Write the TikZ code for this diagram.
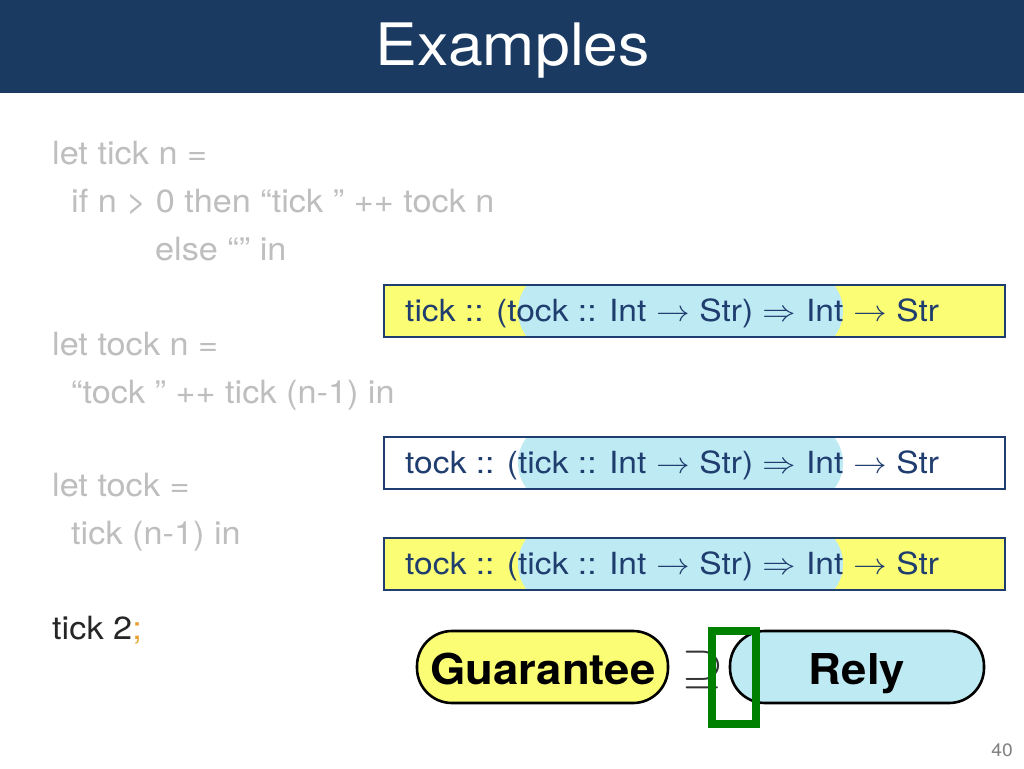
\documentclass[tikz,border=0pt]{standalone}
\usepackage{fontspec}
\setmainfont[FakeStretch=1.07]{TeX Gyre Heros}
\newfontfamily\typefont[FakeStretch=1.1]{TeX Gyre Heros}
\newfontfamily\lmm[FakeStretch=1.1]{Latin Modern Math}
\begin{document}
\begin{tikzpicture}[x=1pt,y=-1pt,
  codetext/.style={anchor=base west,inner sep=0pt,text=codegray,font=\fontsize{32}{36}\selectfont},
  typetext/.style={anchor=base west,inner sep=0pt,text=navy,font=\typefont\fontsize{30.5}{34}\selectfont},
  typesym/.style={anchor=base west,inner sep=0pt,text=navy,font=\lmm\fontsize{30.5}{34}\selectfont},
  typebox/.style={draw=navy,line width=1.3pt},
  capsule/.style={draw=black,line width=2.6pt,rounded corners=35pt},
  captext/.style={anchor=base,inner sep=0pt,font=\fontsize{42.5}{50}\selectfont\bfseries,text=black}
]
\definecolor{headblue}{HTML}{1B3A62}
\definecolor{navy}{HTML}{1F3D6E}
\definecolor{codegray}{HTML}{BEBEBE}
\definecolor{yel}{HTML}{FBFD74}
\definecolor{lblue}{HTML}{BEEAF3}
\definecolor{grn}{HTML}{008000}
\definecolor{orng}{HTML}{E8A030}
\useasboundingbox (0,0) rectangle (1024,768);
\fill[white] (0,0) rectangle (1024,768);
% header
\fill[headblue] (0,0) rectangle (1024,93);
\node[anchor=base,inner sep=0pt,text=white,font=\fontsize{58.5}{64}\selectfont] (title) at (513,66) {Examples};
% code
\node[codetext] (c1) at (52,164) {let tick n =};
\node[codetext] (c2) at (71,212) {if n > 0 then “tick ” ++ tock n};
\node[codetext] (c3) at (155,260) {else “” in};
\node[codetext] (c4) at (52,355) {let tock n =};
\node[codetext] (c5) at (71,403) {“tock ” ++ tick (n-1) in};
\node[codetext] (c6) at (52,496) {let tock =};
\node[codetext] (c7) at (71,544) {tick (n-1) in};
\node[codetext,text=black!85] (c8) at (52,639) {tick 2\textcolor{orng}{;}};
% type boxes
\foreach \y/\f/\nm in {285/yel/b1,437/white/b2,538/yel/b3}{
  \begin{scope}
    \clip (384,\y) rectangle (1005,\y+52);
    \fill[\f] (384,\y) rectangle (1005,\y+52);
    \fill[lblue,rounded corners=42pt] (518,\y+26-42) rectangle (843,\y+26+42);
  \end{scope}
  \draw[typebox] (384,\y) rectangle (1005,\y+52);
}
\foreach \n/\yb/\first in {1/321/{tick :: (tock :: Int},2/473/{tock :: (tick :: Int},3/574/{tock :: (tick :: Int}}{
  \node[typetext] (t\n a) at (405,\yb) {\first};
  \node[typesym]  (t\n b) at ([xshift=9.3]t\n a.base east) {→};
  \node[typetext] (t\n c) at ([xshift=9.3]t\n b.base east) {Str)};
  \node[typesym]  (t\n d) at ([xshift=9.3]t\n c.base east) {⇒};
  \node[typetext] (t\n e) at ([xshift=9.3]t\n d.base east) {Int};
  \node[typesym]  (t\n f) at ([xshift=9.3]t\n e.base east) {→};
  \node[typetext] (t\n g) at ([xshift=9.3]t\n f.base east) {Str};
}
% guarantee / rely
\draw[capsule,fill=yel] (417,631) rectangle (668,703);
\node[captext] (g) at (543,684) {Guarantee};
\node[anchor=base west,inner sep=0pt,text=black!80,font=\lmm\fontsize{50}{60}\selectfont] (sup) at (681,682) {⊇};
\draw[capsule,fill=lblue] (730,631) rectangle (984,703);
\node[captext] (r) at (857,684) {Rely};
\draw[grn,line width=8pt] (712,631) rectangle (756,724);
% page number
\node[anchor=base east,inner sep=0pt,text=gray,font=\fontsize{18}{20}\selectfont] (pg) at (1013,756) {40};
\end{tikzpicture}
\end{document}
